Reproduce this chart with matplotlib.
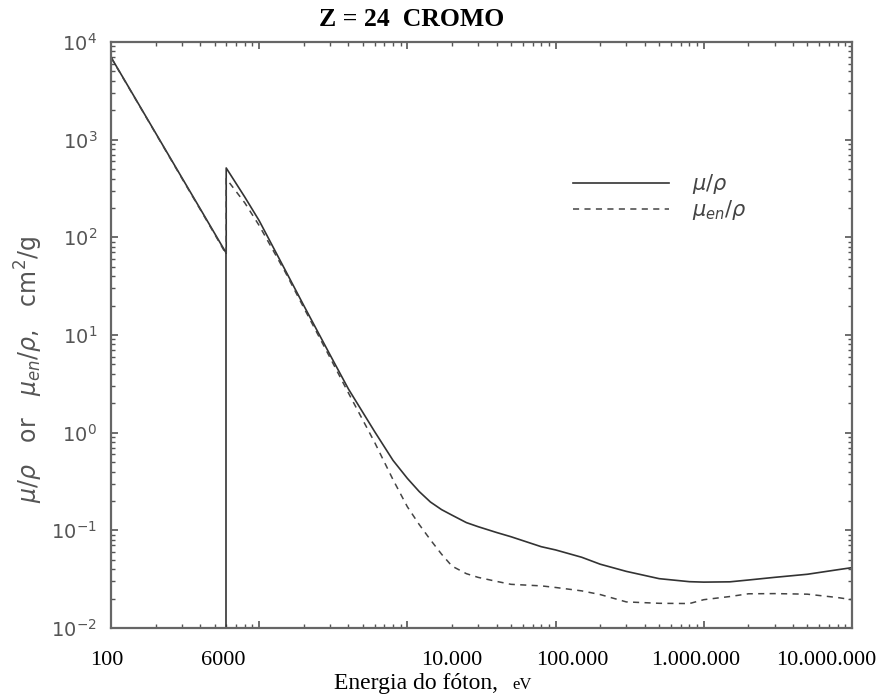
import numpy as np
import matplotlib.pyplot as plt
from matplotlib.ticker import LogLocator, NullFormatter
import matplotlib.transforms as mtransforms

# energia do foton [eV] e coeficientes [cm2/g]
energia = [1000, 1500, 2000, 3000, 4000, 5000, 5989, 5989, 8000, 10000, 15000,
           20000, 30000, 40000, 60000, 80000, 100000, 120000, 143000, 170000,
           200000, 250000, 300000, 400000, 500000, 800000, 1e6, 1.5e6, 2e6, 3e6,
           5e6, 8e6, 1e7, 1.5e7, 2e7, 3e7, 5e7, 8e7, 1e8]
mu_rho = [7000, 2460, 1170, 411, 196, 110, 69, 513, 258, 148, 46,
          20, 6.3, 2.8, 1.03, 0.52, 0.34, 0.25, 0.195, 0.163,
          0.143, 0.12, 0.109, 0.095, 0.086, 0.068, 0.063, 0.053, 0.045, 0.038,
          0.032, 0.0298, 0.0295, 0.0297, 0.031, 0.033, 0.0355, 0.0395, 0.0415]
mu_en_rho = [6950, 2440, 1160, 405, 193, 108, 67, 400, 225, 132, 44,
             19, 5.9, 2.55, 0.8, 0.33, 0.174, 0.115, 0.08, 0.057,
             0.043, 0.036, 0.033, 0.03, 0.028, 0.027, 0.026, 0.024, 0.022, 0.0185,
             0.0179, 0.0178, 0.0195, 0.021, 0.0224, 0.0225, 0.0222, 0.0205, 0.0195]
borda_k = 5989     # borda K do cromo [eV]
mu_borda = 69

# rotulos do eixo x como aparecem na figura
xlab_pos = [940, 5700, 2.0e5, 1.3e6, 8.8e6, 6.7e7]
xlab_txt = ['100', '6000', '10.000', '100.000', '1.000.000', '10.000.000']

W, H = 885, 698
fig = plt.figure(figsize=(W/100, H/100), dpi=100)
ax = fig.add_axes([111/W, 1-628/H, (852-111)/W, (628-42)/H])

ax.plot(energia, mu_rho, '-', color='#333333', lw=1.2, label=r'$\mu/\rho$')
ax.plot(energia, mu_en_rho, '--', color='#444444', lw=1.1, dashes=(4, 3.5),
        label=r'$\mu_{en}/\rho$')
ax.vlines(borda_k, 1e-2, mu_borda, color='#333333', lw=1.2)

ax.set_xscale('log')
ax.set_yscale('log')
ax.set_xlim(1e3, 1e8)
ax.set_ylim(1e-2, 1e4)

ax.xaxis.set_major_locator(LogLocator(base=10, numticks=10))
ax.xaxis.set_minor_locator(LogLocator(base=10, subs=np.arange(2, 10), numticks=20))
ax.xaxis.set_major_formatter(NullFormatter())
ax.xaxis.set_minor_formatter(NullFormatter())
ax.yaxis.set_minor_locator(LogLocator(base=10, subs=np.arange(2, 10), numticks=20))
ax.yaxis.set_minor_formatter(NullFormatter())

ax.tick_params(which='both', direction='in', top=True, right=True, colors='#555555')
ax.tick_params(which='major', length=5, width=1.2, labelsize=14, pad=10)
ax.tick_params(which='minor', length=3, width=1)
for lab in ax.get_yticklabels():
    lab.set_color('#555555')
for sp in ax.spines.values():
    sp.set_color('#666666')
    sp.set_linewidth(1.6)

trans = mtransforms.blended_transform_factory(ax.transData, ax.transAxes)
for p, t in zip(xlab_pos, xlab_txt):
    ax.text(p, -0.055, t, transform=trans, ha='center', va='center',
            fontsize=16, family='Liberation Serif')

fig.text(334/W, 1-689/H, 'Energia do fóton,', ha='left', va='baseline',
         fontsize=17, family='Liberation Serif')
fig.text(512/W, 1-689/H, 'eV', ha='left', va='baseline',
         fontsize=12, family='Liberation Serif')
fig.text(412/W, 1-20/H, 'Z = 24  CROMO', ha='center', va='center',
         fontsize=18.5, fontweight='bold', family='Liberation Serif')
fig.text(29/W, 1-369/H, r'$\mu/\rho$   or   $\mu_{en}/\rho$,   cm$^2$/g',
         rotation=90, ha='center', va='center', fontsize=17, color='#555555')

ax.legend(loc='upper left', bbox_to_anchor=((573-111)/741, 1-(172-42)/586),
          frameon=False, handlelength=4.6, handletextpad=1.1, labelspacing=0.1,
          fontsize=15, borderpad=0, borderaxespad=0, labelcolor='#444444')

fig.savefig('out.png', dpi=100)
